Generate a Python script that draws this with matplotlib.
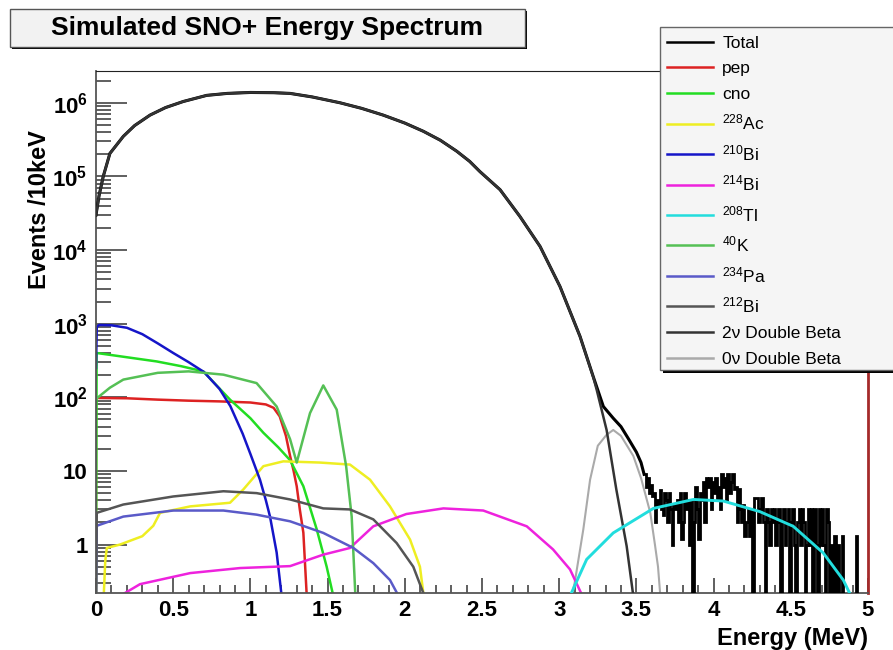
import numpy as np
import matplotlib.pyplot as plt
from matplotlib.patches import Rectangle
from matplotlib.lines import Line2D
from matplotlib.ticker import FixedLocator, LogLocator, MultipleLocator, NullFormatter

plt.rcParams['font.family'] = ['Liberation Sans', 'DejaVu Sans']
plt.rcParams['mathtext.default'] = 'regular'

# -- data (E in MeV, counts per 10 keV) -----------------------------
total_e = [0.0, 0.005, 0.02, 0.047, 0.09, 0.177, 0.25, 0.35, 0.45, 0.565, 0.717, 0.85, 1.0,
           1.15, 1.257, 1.4, 1.58, 1.72, 1.86, 2.0, 2.12, 2.23, 2.336, 2.42, 2.487, 2.617,
           2.746, 2.876, 3.005, 3.135, 3.22, 3.286, 3.35, 3.40, 3.45, 3.50, 3.53, 3.55]
total_n = [3.0e4, 3.5e4, 5.5e4, 1.0e5, 2.05e5, 3.5e5, 4.9e5, 6.8e5, 8.6e5, 1.04e6, 1.26e6, 1.34e6, 1.38e6,
           1.37e6, 1.34e6, 1.2e6, 1.0e6, 8.4e5, 6.8e5, 5.3e5, 4.1e5, 3.1e5, 2.2e5, 1.6e5, 1.16e5, 6.6e4,
           2.85e4, 1.12e4, 3.2e3, 670, 192, 75, 52, 40, 27, 18, 13, 9]

# noisy tail of the total, 10 keV bins starting at 3.55 MeV (0 = empty bin)
tail_start = 3.55
tail_n = [
    9, 6, 8, 5, 6.5, 4.5, 5, 2, 4, 3.5,
    5.5, 3, 2.5, 5, 4, 2, 5, 3, 1, 3.5,
    3, 4, 2, 5, 1.2, 2, 5, 3, 4, 1,
    4, 0, 2, 6, 3, 1.2, 5, 4, 7, 2,
    8, 6, 8, 3, 7, 5, 8, 4, 6, 3,
    9, 6, 8, 4, 9, 5, 7, 9, 5.6, 6,
    2, 5.6, 3, 2, 3.5, 1.3, 2, 3, 1.3, 3,
    0, 4.3, 4.3, 4.3, 2, 3, 4.3, 2, 0, 3,
    2, 1, 3, 2, 3, 1, 2, 3, 0, 2,
    3, 1, 2, 3, 0, 2, 3, 1, 0, 2,
    3, 1, 3, 2, 0, 1, 3, 1, 3, 0,
    3, 1, 0, 3, 1, 3, 1, 0, 3, 2,
    0, 1, 0, 1.3, 0, 1, 0, 0, 1.3, 0,
    0, 0, 0, 0, 0, 0, 0, 1.3, 0, 0,
]

dbeta2_e = [0.0, 0.005, 0.02, 0.047, 0.09, 0.177, 0.25, 0.35, 0.45, 0.565, 0.717, 0.85, 1.0,
            1.15, 1.257, 1.4, 1.58, 1.72, 1.86, 2.0, 2.12, 2.23, 2.336, 2.42, 2.487, 2.617,
            2.746, 2.876, 3.005, 3.135, 3.22, 3.243, 3.307, 3.37, 3.437, 3.48]
dbeta2_n = [3.0e4, 3.5e4, 5.5e4, 1.0e5, 2.05e5, 3.5e5, 4.9e5, 6.8e5, 8.6e5, 1.04e6, 1.26e6, 1.34e6, 1.38e6,
            1.37e6, 1.34e6, 1.2e6, 1.0e6, 8.4e5, 6.8e5, 5.3e5, 4.1e5, 3.1e5, 2.2e5, 1.6e5, 1.16e5, 6.6e4,
            2.85e4, 1.12e4, 3.2e3, 670, 190, 126, 36, 5.6, 0.95, 0.2]

dbeta0_e = [3.08, 3.10, 3.156, 3.20, 3.25, 3.307, 3.35, 3.40, 3.48, 3.53, 3.59, 3.62, 3.64, 3.655]
dbeta0_n = [0.2, 0.3, 1.6, 7.6, 22, 31, 36, 30, 16, 8, 2.7, 1.0, 0.5, 0.2]

pep_e = [0.0, 0.0, 0.2, 0.4, 0.6, 0.8, 1.0, 1.1, 1.15, 1.19, 1.23, 1.257, 1.28, 1.30, 1.32, 1.343, 1.365]
pep_n = [0.2, 98, 97, 93, 90, 88, 85, 80, 72, 55, 30, 16, 10, 6.2, 3, 1.45, 0.2]

cno_e = [0.0, 0.004, 0.2, 0.393, 0.55, 0.695, 0.868, 1.0, 1.084, 1.18, 1.257, 1.343, 1.43, 1.494, 1.537]
cno_n = [0.2, 400, 350, 307, 265, 225, 93, 52, 33, 21, 14, 6.2, 1.6, 0.5, 0.2]

ac228_e = [0.05, 0.06, 0.07, 0.155, 0.30, 0.371, 0.415, 0.61, 0.868, 0.954, 1.084, 1.213,
           1.45, 1.645, 1.775, 1.904, 2.034, 2.098, 2.12]
ac228_n = [0.2, 0.6, 0.9, 1.0, 1.3, 1.8, 2.7, 3.3, 3.7, 5.6, 11.6, 13.5,
           13.0, 12.2, 7.6, 3.3, 1.17, 0.5, 0.22]

bi210_e = [0.0, 0.005, 0.02, 0.1, 0.2, 0.3, 0.4, 0.5, 0.6, 0.7, 0.8, 0.87, 0.95, 1.0,
           1.062, 1.1, 1.127, 1.17, 1.20]
bi210_n = [250, 900, 960, 950, 880, 720, 540, 400, 300, 220, 130, 76, 32, 17,
           7.6, 4, 2.4, 0.78, 0.22]

bi214_e = [0.155, 0.285, 0.61, 0.933, 1.257, 1.472, 1.645, 1.796, 2.01, 2.25, 2.508,
           2.79, 2.96, 3.07, 3.146]
bi214_n = [0.2, 0.29, 0.41, 0.48, 0.51, 0.73, 0.9, 1.77, 2.6, 3.1, 2.9,
           1.77, 0.86, 0.46, 0.21]

tl208_e = [3.07, 3.178, 3.35, 3.61, 3.87, 4.063, 4.30, 4.516, 4.71, 4.84, 4.89]
tl208_n = [0.2, 0.63, 1.44, 3.1, 4.1, 3.9, 2.8, 1.77, 0.77, 0.33, 0.2]

k40_e = [0.0, 0.09, 0.177, 0.4, 0.6, 0.825, 1.04, 1.17, 1.257, 1.30, 1.386, 1.472,
         1.559, 1.62, 1.656, 1.68]
k40_n = [95, 135, 174, 215, 225, 203, 156, 75, 27, 13, 61, 145,
         68, 11.6, 2.4, 0.2]

pa234_e = [0.0, 0.005, 0.177, 0.5, 0.825, 1.04, 1.257, 1.472, 1.667, 1.796, 1.904, 1.96]
pa234_n = [0.2, 1.8, 2.4, 2.9, 2.9, 2.55, 2.07, 1.44, 0.9, 0.56, 0.33, 0.2]

bi212_e = [0.0, 0.005, 0.177, 0.5, 0.825, 1.04, 1.257, 1.472, 1.645, 1.796, 1.947, 2.055, 2.12]
bi212_n = [0.2, 2.7, 3.5, 4.5, 5.3, 5.0, 4.1, 3.1, 3.0, 2.2, 1.05, 0.5, 0.22]

# -- legend rows: (label, colour) ---------------------------------
legend_rows = [
    ('Total', 'black'),
    ('pep', '#dd2222'),
    ('cno', '#22dd22'),
    ('$^{228}$Ac', '#eeee22'),
    ('$^{210}$Bi', '#1515c8'),
    ('$^{214}$Bi', '#ee22dd'),
    ('$^{208}$Tl', '#22dddd'),
    ('$^{40}$K', '#55c055'),
    ('$^{234}$Pa', '#5a5ac8'),
    ('$^{212}$Bi', '#555555'),
    ('2\u03bd Double Beta', '#333333'),
    ('0\u03bd Double Beta', '#aaaaaa'),
]
col = dict(legend_rows)

# -- figure --------------------------------------------------------
fig = plt.figure(figsize=(8.93, 6.5), dpi=100)
ax = fig.add_axes((96/893, 1-593/650, (868-96)/893, (593-71)/650))

lw = 1.8
ax.plot(total_e, total_n, color='black', lw=lw + 0.4, zorder=3)
tail_edges = tail_start + 0.01*np.arange(len(tail_n) + 1)
tail_vals = np.where(np.array(tail_n) > 0, tail_n, 0.01)
ax.stairs(tail_vals, tail_edges, color='black', lw=2.0, baseline=None, zorder=3)

ax.plot(dbeta2_e, dbeta2_n, color=col['2\u03bd Double Beta'], lw=lw, zorder=4)
ax.plot(dbeta0_e, dbeta0_n, color=col['0\u03bd Double Beta'], lw=1.5, zorder=2)
ax.plot(pep_e, pep_n, color=col['pep'], lw=lw, zorder=2)
ax.plot(cno_e, cno_n, color=col['cno'], lw=lw, zorder=2)
ax.plot(ac228_e, ac228_n, color=col['$^{228}$Ac'], lw=lw, zorder=2)
ax.plot(bi210_e, bi210_n, color=col['$^{210}$Bi'], lw=lw, zorder=2)
ax.plot(bi214_e, bi214_n, color=col['$^{214}$Bi'], lw=lw, zorder=2)
ax.plot(tl208_e, tl208_n, color=col['$^{208}$Tl'], lw=lw + 0.3, zorder=4)
ax.plot(k40_e, k40_n, color=col['$^{40}$K'], lw=lw, zorder=2)
ax.plot(pa234_e, pa234_n, color=col['$^{234}$Pa'], lw=lw, zorder=2)
ax.plot(bi212_e, bi212_n, color=col['$^{212}$Bi'], lw=lw, zorder=2)

ax.set_yscale('log')
ax.set_xlim(0, 5)
ax.set_ylim(0.22, 2.7e6)

# -- ticks ---------------------------------------------------------
ax.xaxis.set_minor_locator(MultipleLocator(0.1))
ax.set_xticks([0, 0.5, 1, 1.5, 2, 2.5, 3, 3.5, 4, 4.5, 5],
              ['0', '0.5', '1', '1.5', '2', '2.5', '3', '3.5', '4', '4.5', '5'])
ax.yaxis.set_major_locator(FixedLocator([1, 10, 1e2, 1e3, 1e4, 1e5, 1e6]))
ax.set_yticklabels(['1', '10', r'$10^{2}$', r'$10^{3}$', r'$10^{4}$', r'$10^{5}$', r'$10^{6}$'])
ax.yaxis.set_minor_locator(LogLocator(base=10, subs=np.arange(2, 10), numticks=20))
ax.yaxis.set_minor_formatter(NullFormatter())
ax.tick_params(which='both', direction='in', colors='#444444', labelcolor='black',
               labelsize=16, width=1.2)
ax.tick_params(axis='y', which='major', length=22, pad=6)
ax.tick_params(axis='y', which='minor', length=11)
ax.tick_params(axis='x', which='major', length=11, pad=5)
ax.tick_params(axis='x', which='minor', length=6)
for lab in ax.get_xticklabels() + ax.get_yticklabels():
    lab.set_fontweight('bold')

for s in ('left', 'bottom'):
    ax.spines[s].set_color('#555555')
    ax.spines[s].set_linewidth(1.3)
ax.spines['top'].set_color('#222222')
ax.spines['right'].set_color('#a52a2a')
ax.spines['right'].set_linewidth(2)

ax.set_xlabel('Energy (MeV)', fontsize=17, fontweight='bold', loc='right', labelpad=4)
fig.text(40/893, 1-210/650, 'Events /10keV', rotation=90, fontsize=17,
         fontweight='bold', ha='center', va='center')

# -- title box -----------------------------------------------------
fig.patches.append(Rectangle((12/893, 1-49/650), 515/893, 38/650, transform=fig.transFigure,
                             facecolor='black', edgecolor='none', zorder=5))
fig.patches.append(Rectangle((10/893, 1-47/650), 515/893, 38/650, transform=fig.transFigure,
                             facecolor='#f2f2f2', edgecolor='#555555', lw=1, zorder=6))
fig.text(267/893, 1-28/650, 'Simulated SNO+ Energy Spectrum', fontsize=19,
         fontweight='bold', ha='center', va='center', zorder=7)

# -- legend box ----------------------------------------------------
fig.patches.append(Rectangle((663/893, 1-373/650), 240/893, 344/650, transform=fig.transFigure,
                             facecolor='black', edgecolor='none', zorder=8))
fig.patches.append(Rectangle((660/893, 1-370/650), 240/893, 343/650, transform=fig.transFigure,
                             facecolor='#f5f5f5', edgecolor='#666666', lw=1, zorder=9))
handles = [Line2D([], [], color=c, lw=1.8) for _, c in legend_rows]
leg = fig.legend(handles, [l for l, _ in legend_rows], loc='upper left',
                 bbox_to_anchor=(664/893, 1-32/650), frameon=False, fontsize=12.5,
                 handlelength=2.6, handletextpad=0.55, labelspacing=0.61,
                 borderaxespad=0, borderpad=0.2)
leg.set_zorder(10)

fig.savefig('out.png', dpi=100)
